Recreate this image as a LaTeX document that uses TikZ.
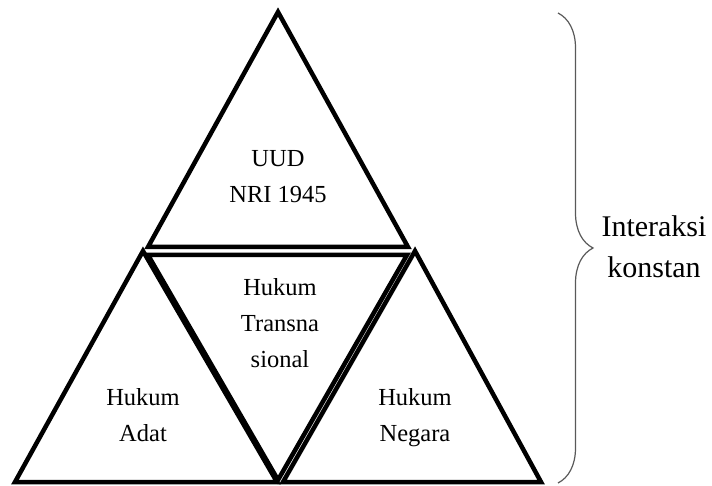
\documentclass[tikz,border=0pt]{standalone}
\usepackage{fontspec}
\setmainfont{Liberation Serif}
\usetikzlibrary{decorations.pathreplacing}

\begin{document}
\begin{tikzpicture}[x=1pt, y=-1pt,
	tri/.style={draw=black, line width=4.5pt},
	lbl/.style={align=center, font=\fontsize{24.5}{36}\selectfont, inner sep=0pt},
	bracelbl/.style={align=center, font=\fontsize{30}{41}\selectfont, inner sep=0pt}]
	
	\useasboundingbox (0,0) rectangle (712,486);
	
	% triangle corners
	\coordinate (t1) at (278, 12);
	\coordinate (t2) at (148, 247);
	\coordinate (t3) at (408, 247);
	\coordinate (m1) at (148, 255);
	\coordinate (m2) at (407, 255);
	\coordinate (m3) at (278, 480);
	\coordinate (l1) at (143, 251);
	\coordinate (l2) at (15, 482);
	\coordinate (l3) at (277, 482);
	\coordinate (r1) at (415, 251);
	\coordinate (r2) at (283, 482);
	\coordinate (r3) at (541, 482);
	
	\draw[tri] (t1) -- (t2) -- (t3) -- cycle;
	\draw[tri] (m1) -- (m2) -- (m3) -- cycle;
	\draw[tri] (l1) -- (l2) -- (l3) -- cycle;
	\draw[tri] (r1) -- (r2) -- (r3) -- cycle;
	
	\node[lbl] (uud)    at (278, 177)   {UUD\\NRI 1945};
	\node[lbl] (trans)  at (280, 323.5) {Hukum\\Transna\\sional};
	\node[lbl] (adat)   at (143, 415)   {Hukum\\Adat};
	\node[lbl] (negara) at (415, 417.5) {Hukum\\Negara};
	
	% brace
	\coordinate (b1) at (558, 13);
	\coordinate (b2) at (558, 483);
	\draw[decorate, decoration={brace, amplitude=35pt}, line width=1.2pt, draw=black!65] (b1) -- (b2);
	
	\node[bracelbl] (inter) at (654, 247) {Interaksi\\konstan};

\end{tikzpicture}
\end{document}
